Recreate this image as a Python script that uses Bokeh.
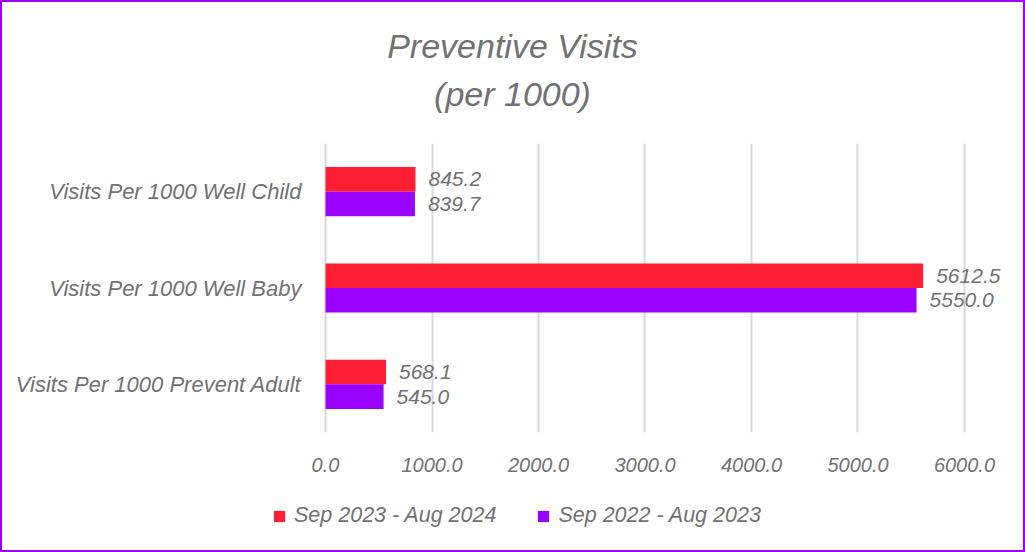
from bokeh.plotting import figure
from bokeh.layouts import column
from bokeh.models import (ColumnDataSource, FactorRange, Range1d, LabelSet, Legend, LegendItem,
                          Label, FixedTicker, NumeralTickFormatter)
from bokeh.transform import dodge
from bokeh.core.properties import value
from bokeh.embed import file_html
from bokeh.resources import INLINE

title_lines = ["Preventive Visits", "(per 1000)"]
categories = ["Visits Per 1000 Well Child", "Visits Per 1000 Well Baby", "Visits Per 1000 Prevent Adult"]
series_2024 = [845.2, 5612.5, 568.1]
series_2023 = [839.7, 5550.0, 545.0]
series_names = ["Sep 2023 - Aug 2024", "Sep 2022 - Aug 2023"]
x_ticks = [0, 1000, 2000, 3000, 4000, 5000, 6000]

RED = "#FF1F35"
PURPLE = "#9900FF"
TEXT = "#717171"
GRID = "#D9D9D9"
FONT = "Liberation Sans"

src = ColumnDataSource(dict(
    cat=categories,
    a=series_2024,
    b=series_2023,
    a_lbl=[f"{v:.1f}" for v in series_2024],
    b_lbl=[f"{v:.1f}" for v in series_2023],
))

W = 1021
HT, H1, H2 = 120, 370, 58


def bare(fig):
    fig.title = None
    fig.axis.visible = False
    fig.grid.visible = False
    fig.outline_line_color = None
    fig.frame_align = False


# ---- title strip (y counts pixels from the top of the strip)
tf = figure(width=W, height=HT, output_backend="svg", toolbar_location=None,
            x_range=Range1d(0, W), y_range=Range1d(HT, 0),
            min_border_left=0, min_border_right=0, min_border_top=0, min_border_bottom=0)
bare(tf)
for line, base in zip(title_lines, (43, 91)):
    tf.add_layout(Label(x=510, y=base, text=line, text_align="center",
                        text_baseline="alphabetic", text_font=FONT,
                        text_font_style="italic", text_font_size="34px", text_color=TEXT))

# ---- main chart
p = figure(width=W, height=H1, output_backend="svg", toolbar_location=None,
           y_range=FactorRange(*categories[::-1], range_padding=0),
           x_range=Range1d(-19, 6498),
           min_border_left=321, min_border_right=6, min_border_top=21, min_border_bottom=60)
p.title = None
p.frame_align = False

BH = 0.255
rb = p.hbar(y=dodge("cat", BH / 2, range=p.y_range), right="a", left=0, height=BH,
            source=src, fill_color=RED, line_color=None)
pb = p.hbar(y=dodge("cat", -BH / 2, range=p.y_range), right="b", left=0, height=BH,
            source=src, fill_color=PURPLE, line_color=None)

for col, lbl, off in (("a", "a_lbl", BH / 2), ("b", "b_lbl", -BH / 2)):
    p.add_layout(LabelSet(x=col, y=dodge("cat", off, range=p.y_range), text=lbl, source=src,
                          x_offset=13, text_baseline="middle", text_align="left",
                          text_font=value(FONT), text_font_style="italic",
                          text_font_size="21px", text_color=TEXT))

p.xaxis.ticker = FixedTicker(ticks=x_ticks)
p.xaxis.formatter = NumeralTickFormatter(format="0.0")
for ax in (p.xaxis, p.yaxis):
    ax.axis_line_color = None
    ax.major_tick_line_color = None
    ax.minor_tick_line_color = None
    ax.major_tick_out = 0
    ax.major_tick_in = 0
    ax.major_label_text_font = FONT
    ax.major_label_text_font_style = "italic"
    ax.major_label_text_color = TEXT
p.xaxis.major_label_text_font_size = "20px"
p.yaxis.major_label_text_font_size = "22px"
p.xaxis.major_label_standoff = 25
p.yaxis.major_label_standoff = 22

p.xgrid.grid_line_color = GRID
p.xgrid.grid_line_width = 2
p.ygrid.grid_line_color = None
p.outline_line_color = None

# ---- legend strip below the chart
lf = figure(width=W, height=H2, output_backend="svg", toolbar_location=None,
            x_range=Range1d(0, 1), y_range=Range1d(0, 1),
            min_border_left=0, min_border_right=0, min_border_top=0, min_border_bottom=0)
bare(lf)
lr = lf.hbar(y=[0.5], right=[0], left=[0], height=0.1, fill_color=RED, line_color=None)
lp = lf.hbar(y=[0.5], right=[0], left=[0], height=0.1, fill_color=PURPLE, line_color=None)

legend = Legend(items=[LegendItem(label=series_names[0], renderers=[lr]),
                       LegendItem(label=series_names[1], renderers=[lp])],
                orientation="horizontal", location=(270, 22),
                label_text_font=FONT, label_text_font_style="italic",
                label_text_font_size="21.5px", label_text_color=TEXT,
                glyph_width=14, glyph_height=14, spacing=40, label_standoff=8,
                border_line_color=None, background_fill_alpha=0, margin=0, padding=0)
lf.add_layout(legend, "center")

layout = column(tf, p, lf, spacing=0, styles={"border": "2px solid #9900FF"})

open("out.html", "w").write(file_html(layout, INLINE))
